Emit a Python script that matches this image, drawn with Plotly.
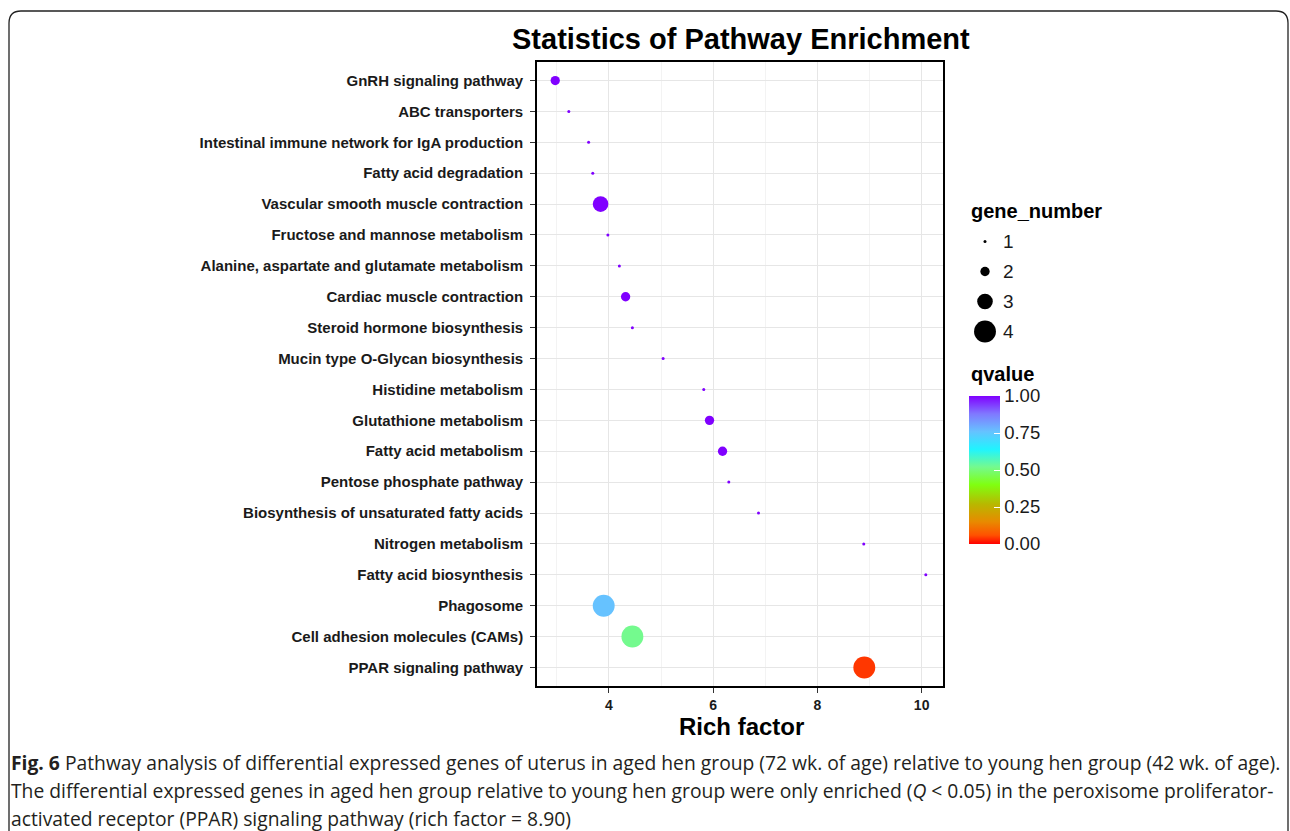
import plotly.graph_objects as go

# ---------------- data ----------------
pathways = [
    "GnRH signaling pathway",
    "ABC transporters",
    "Intestinal immune network for IgA production",
    "Fatty acid degradation",
    "Vascular smooth muscle contraction",
    "Fructose and mannose metabolism",
    "Alanine, aspartate and glutamate metabolism",
    "Cardiac muscle contraction",
    "Steroid hormone biosynthesis",
    "Mucin type O-Glycan biosynthesis",
    "Histidine metabolism",
    "Glutathione metabolism",
    "Fatty acid metabolism",
    "Pentose phosphate pathway",
    "Biosynthesis of unsaturated fatty acids",
    "Nitrogen metabolism",
    "Fatty acid biosynthesis",
    "Phagosome",
    "Cell adhesion molecules (CAMs)",
    "PPAR signaling pathway",
]
rich_factor = [2.97, 3.23, 3.61, 3.69, 3.84, 3.98, 4.20, 4.32, 4.45, 5.04,
               5.82, 5.93, 6.18, 6.30, 6.87, 8.89, 10.08, 3.90, 4.45, 8.90]
gene_number = [2, 1, 1, 1, 3, 1, 1, 2, 1, 1,
               1, 2, 2, 1, 1, 1, 1, 4, 4, 4]
qvalue = [1.0, 1.0, 1.0, 1.0, 1.0, 1.0, 1.0, 1.0, 1.0, 1.0,
          1.0, 1.0, 1.0, 1.0, 1.0, 1.0, 1.0, 0.76, 0.52, 0.04]

size_levels = [1, 2, 3, 4]
q_ticks = [0.0, 0.25, 0.50, 0.75, 1.00]
q_ticklabels = ["0.00", "0.25", "0.50", "0.75", "1.00"]
x_ticks = [4, 6, 8, 10]

title_text = "Statistics of Pathway Enrichment"
x_title = "Rich factor"
size_title = "gene_number"
color_title = "qvalue"
caption_lines = [
    "<b>Fig. 6</b> Pathway analysis of differential expressed genes of uterus in aged hen group (72 wk. of age) relative to young hen group (42 wk. of age).",
    "The differential expressed genes in aged hen group relative to young hen group were only enriched (<i>Q</i> < 0.05) in the peroxisome proliferator-",
    "activated receptor (PPAR) signaling pathway (rich factor = 8.90)",
]

# ---------------- style helpers ----------------
W, H = 1290, 831
def PX(x):
    return x / W
def PY(y):
    return 1 - y / H

def diam(n):
    return 3 + 6.3 * (n - 1)

colorscale = [
    [0.00, "#FF0000"],
    [0.06, "#FF5200"],
    [0.15, "#E88A00"],
    [0.27, "#B8B800"],
    [0.40, "#80FF10"],
    [0.52, "#74FA8E"],
    [0.64, "#20F4FF"],
    [0.76, "#66C2FF"],
    [0.88, "#8078FF"],
    [1.00, "#8000FF"],
]

BOLD = "Liberation Sans"

fig = go.Figure()

fig.add_trace(go.Scatter(
    x=rich_factor, y=pathways, mode="markers",
    marker=dict(
        size=[diam(n) for n in gene_number], sizemode="diameter",
        color=qvalue, colorscale=colorscale, cmin=0, cmax=1,
        line=dict(width=0), opacity=1,
        colorbar=dict(
            x=PX(969), xanchor="left", y=PY(470), yanchor="middle",
            len=148, lenmode="pixels", thickness=31, thicknessmode="pixels",
            xpad=0, ypad=0, outlinewidth=0,
            tickvals=q_ticks, ticktext=q_ticklabels,
            ticks="inside", tickcolor="white", ticklen=6, tickwidth=1,
            tickfont=dict(family=BOLD, size=18.5, color="#1a1a1a"),
        ),
    ),
    showlegend=False, xaxis="x", yaxis="y",
))

# size legend drawn on its own small axes
fig.add_trace(go.Scatter(
    x=[0.5] * len(size_levels), y=size_levels, mode="markers",
    marker=dict(size=[diam(n) for n in size_levels], sizemode="diameter",
                color="#000000", opacity=1, line=dict(width=0)),
    showlegend=False, xaxis="x2", yaxis="y2", hoverinfo="skip",
))

ticks_common = dict(ticks="outside", ticklen=5, tickwidth=1.2, tickcolor="#333333",
                    showline=True, linecolor="black", linewidth=1.6, mirror=True,
                    zeroline=False, automargin=False)

fig.update_layout(
    width=W, height=H, template="none",
    margin=dict(l=0, r=0, t=0, b=0),
    paper_bgcolor="white", plot_bgcolor="white",
    xaxis=dict(
        domain=[PX(537), PX(943)], range=[2.62, 10.41],
        tickvals=x_ticks, showgrid=True, gridcolor="#E6E6E6", gridwidth=1,
        minor=dict(dtick=1, tick0=0, showgrid=True, gridcolor="#F3F3F3", gridwidth=1),
        tickfont=dict(family=BOLD, size=14, color="#1a1a1a", weight="bold"),
        anchor="y", **ticks_common,
    ),
    yaxis=dict(
        domain=[PY(686), PY(62)], type="category",
        categoryorder="array", categoryarray=list(reversed(pathways)),
        range=[-0.6, len(pathways) - 0.4],
        showgrid=True, gridcolor="#E6E6E6", gridwidth=1,
        tickfont=dict(family=BOLD, size=15, color="#1a1a1a", weight="bold"),
        ticklabelstandoff=4,
        anchor="x", **ticks_common,
    ),
    xaxis2=dict(domain=[PX(970), PX(1000)], range=[0, 1], visible=False,
                anchor="y2", automargin=False),
    yaxis2=dict(domain=[PY(346.5), PY(226.5)], range=[4.5, 0.5], visible=False,
                anchor="x2", automargin=False),
)

ann = []
ann.append(dict(text="<b>" + title_text + "</b>", x=PX(741), y=PY(39),
                xref="paper", yref="paper", xanchor="center", yanchor="middle",
                showarrow=False, font=dict(family=BOLD, size=29, color="black")))
ann.append(dict(text="<b>" + x_title + "</b>", x=PX(741), y=PY(726),
                xref="paper", yref="paper", xanchor="center", yanchor="middle",
                showarrow=False, font=dict(family=BOLD, size=24, color="black")))
ann.append(dict(text="<b>" + size_title + "</b>", x=PX(969), y=PY(211),
                xref="paper", yref="paper", xanchor="left", yanchor="middle",
                showarrow=False, font=dict(family=BOLD, size=20, color="black")))
ann.append(dict(text="<b>" + color_title + "</b>", x=PX(969), y=PY(374),
                xref="paper", yref="paper", xanchor="left", yanchor="middle",
                showarrow=False, font=dict(family=BOLD, size=20, color="black")))
for n in size_levels:
    ann.append(dict(text=str(n), x=1.0, y=n, xref="x2", yref="y2",
                    xanchor="left", yanchor="middle", xshift=1, showarrow=False,
                    font=dict(family=BOLD, size=19, color="#1a1a1a")))
for i, line in enumerate(caption_lines):
    ann.append(dict(text=line, x=PX(9), y=PY(762 + 28 * i),
                    xref="paper", yref="paper", xanchor="left", yanchor="middle",
                    showarrow=False, font=dict(family="Open Sans", size=19.3, color="#231f20")))
fig.update_layout(annotations=ann)

# rounded frame around the figure (extends past the bottom edge)
l, t, r, b, rad = 9, 11, 1288, 850, 12
path = (f"M {PX(l)},{PY(b)} L {PX(l)},{PY(t + rad)} "
        f"Q {PX(l)},{PY(t)} {PX(l + rad)},{PY(t)} "
        f"L {PX(r - rad)},{PY(t)} Q {PX(r)},{PY(t)} {PX(r)},{PY(t + rad)} "
        f"L {PX(r)},{PY(b)}")
fig.add_shape(type="path", path=path, xref="paper", yref="paper",
              line=dict(color="#222222", width=1.3))

fig.write_html("out.html", config={"displayModeBar": False},
               post_script="document.body.style.margin='0px';document.body.style.overflow='hidden';")
